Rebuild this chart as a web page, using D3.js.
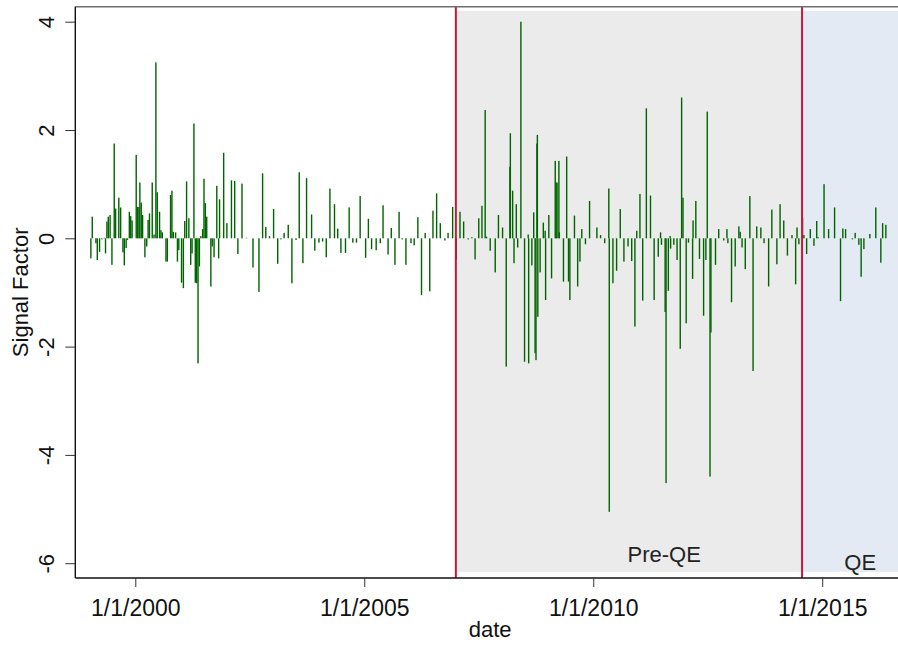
<!DOCTYPE html>
<html>
<head>
<meta charset="utf-8">
<script src="https://cdn.jsdelivr.net/npm/d3@7"></script>
<style>
  body { margin: 0; background: #fff; }
  svg { display: block; font-family: "Liberation Sans", Arial, sans-serif; }
</style>
</head>
<body>
<div id="chart"></div>
<script>
// dates as decimal years
let dates = [
  1999.03,1999.06,1999.14,1999.17,1999.22,1999.27,1999.32,1999.35,1999.38,1999.41,
  1999.45,1999.49,1999.54,1999.57,1999.64,1999.68,1999.73,1999.76,1999.80,1999.83,
  1999.87,1999.90,1999.93,2000.02,2000.05,2000.08,2000.10,2000.13,2000.16,2000.21,
  2000.25,2000.28,2000.31,2000.37,2000.41,2000.45,2000.48,2000.53,2000.56,2000.59,
  2000.67,2000.70,2000.77,2000.80,2000.83,2000.88,2000.92,2000.95,2001.01,2001.05,
  2001.08,2001.12,2001.17,2001.21,2001.24,2001.28,2001.31,2001.34,2001.37,2001.40,
  2001.43,2001.47,2001.50,2001.53,2001.56,2001.65,2001.68,2001.72,2001.78,2001.82,
  2001.84,2001.93,2002.00,2002.10,2002.17,2002.24,2002.33,2002.43,2002.57,2002.70,
  2002.78,2002.85,2002.93,2003.02,2003.11,2003.18,2003.25,2003.34,2003.42,2003.51,
  2003.58,2003.66,2003.74,2003.85,2003.92,2004.01,2004.09,2004.17,2004.25,2004.35,
  2004.42,2004.49,2004.59,2004.67,2004.75,2004.83,2004.91,2005.03,2005.09,2005.16,
  2005.26,2005.35,2005.41,2005.52,2005.59,2005.67,2005.76,2005.83,2005.91,2006.02,
  2006.09,2006.17,2006.25,2006.33,2006.43,2006.50,2006.58,2006.66,2006.76,2006.83,
  2006.93,2007.01,2007.09,2007.17,2007.27,2007.35,2007.42,2007.50,2007.57,2007.64,
  2007.67,2007.75,2007.86,2007.93,2008.02,2008.10,2008.18,2008.19,2008.24,2008.27,
  2008.32,2008.35,2008.42,2008.50,2008.58,2008.59,2008.66,2008.70,2008.73,2008.75,
  2008.77,2008.78,2008.79,2008.84,2008.91,2008.95,2008.96,2009.03,2009.09,2009.17,
  2009.19,2009.21,2009.25,2009.26,2009.35,2009.42,2009.46,2009.49,2009.59,2009.66,
  2009.71,2009.75,2009.83,2009.92,2010.08,2010.16,2010.25,2010.34,2010.35,2010.43,
  2010.51,2010.59,2010.67,2010.76,2010.84,2010.91,2010.95,2011.02,2011.08,2011.16,
  2011.25,2011.33,2011.42,2011.47,2011.49,2011.57,2011.59,2011.64,2011.68,2011.69,
  2011.76,2011.83,2011.90,2011.93,2011.96,2012.03,2012.08,2012.17,2012.18,2012.24,
  2012.32,2012.41,2012.46,2012.49,2012.55,2012.57,2012.67,2012.74,2012.85,2012.92,
  2012.94,2013.02,2013.10,2013.18,2013.21,2013.25,2013.32,2013.42,2013.49,2013.57,
  2013.66,2013.73,2013.83,2013.90,2014.01,2014.08,2014.16,2014.24,2014.34,2014.42,
  2014.45,2014.49,2014.57,2014.60,2014.66,2014.74,2014.82,2014.88,2014.91,2015.04,
  2015.14,2015.27,2015.40,2015.45,2015.51,2015.66,2015.72,2015.80,2015.85,2015.91,
  2016.04,2016.17,2016.28,2016.32,2016.39
];

let signal = [
  -0.37,0.40,-0.09,-0.40,-0.25,-0.02,0.01,-0.28,0.31,0.40,
  0.43,-0.49,1.75,0.55,0.75,0.57,-0.26,-0.50,-0.18,-0.03,
  0.49,0.41,0.33,1.54,0.58,0.58,1.03,0.66,0.43,-0.35,
  -0.15,0.34,0.46,1.03,0.07,3.25,0.85,0.49,0.15,0.11,
  -0.43,-0.43,0.80,0.88,0.12,0.11,-0.43,-0.22,-0.82,-0.92,
  0.32,1.05,0.37,-0.49,-0.28,2.12,-0.82,-0.83,-2.31,-0.52,
  0.04,0.17,1.10,0.65,0.40,-0.89,-0.15,-0.35,0.97,-0.37,
  0.72,1.58,0.28,1.07,1.06,-0.29,1.01,0.01,-0.54,-0.99,
  1.20,0.21,0.04,0.54,-0.47,-0.02,0.10,0.25,-0.83,-0.03,
  1.22,-0.46,1.11,0.44,-0.23,-0.08,-0.06,-0.35,0.92,0.63,
  0.18,-0.27,-0.27,0.57,-0.08,-0.08,0.78,-0.36,0.36,-0.20,
  -0.22,-0.09,0.61,-0.30,0.19,-0.49,0.49,-0.02,-0.49,-0.09,
  -0.13,0.39,-1.05,0.10,-0.98,0.51,0.83,0.28,-0.04,0.10,
  0.58,-0.39,0.49,0.31,-0.02,0.02,-0.39,0.37,0.60,2.37,
  0.03,-0.23,-0.63,0.43,0.20,-2.37,1.32,1.94,0.88,-0.46,
  0.63,-0.17,4.00,-2.28,0.07,-2.31,-0.50,0.48,-2.12,-2.25,
  1.75,1.91,-1.45,-0.63,0.29,0.14,-1.14,0.43,-0.74,1.43,
  1.03,1.03,1.43,0.11,-0.80,1.51,-0.80,-1.14,0.42,-0.89,
  -0.43,0.17,-0.11,0.69,0.20,0.06,-0.09,0.92,-5.05,-0.83,
  -0.60,0.54,-0.43,-0.15,-0.42,-1.63,0.14,0.82,-1.15,2.40,
  0.79,-1.14,-0.34,0.11,-0.12,-1.36,-4.52,-0.97,0.04,-0.19,
  -0.12,-0.40,-2.04,2.60,0.75,-1.57,-0.08,-0.75,0.33,0.69,
  -0.38,-1.43,-0.40,2.34,-4.40,-1.74,-0.49,0.17,-0.04,0.17,
  -0.09,-1.18,-0.52,0.22,0.12,-0.17,-0.57,0.78,-2.45,0.22,
  0.20,-0.09,-0.89,0.53,-0.48,0.63,0.33,-0.32,0.06,-0.85,
  0.20,-0.11,0.38,0.06,-0.29,0.17,-0.14,0.32,0.02,1.00,
  0.17,0.57,-1.16,0.18,0.17,-0.02,0.10,-0.12,-0.71,-0.20,
  0.08,0.57,-0.45,0.28,0.25
];

// regimes: shaded periods
let periodNames = ["Pre-QE", "QE"];
let periodStart = [2007.0, 2014.56];
let periodEnd = [2014.56, 2016.655];
let periodFill = ["#ebebeb", "#e4eaf4"];
let labelAt = [2011.55, 2015.83];

let yTicks = [-6, -4, -2, 0, 2, 4];
let xTicks = [2000, 2005, 2010, 2015];

let W = 898, H = 645;
let pLeft = 75.3, pRight = 898, pTop = 6.7, pBottom = 578;

var svg = d3.select("#chart").append("svg")
  .attr("width", W)
  .attr("height", H);

var x = d3.scaleLinear().domain([1998.69, 2016.655]).range([pLeft, pRight]);
var y = d3.scaleLinear().domain([-6.273, 4.277]).range([pBottom, pTop]);

// shaded regions
svg.selectAll(".shade")
  .data(periodNames)
  .enter()
  .append("rect")
    .attr("x", (d, i) => x(periodStart[i]))
    .attr("width", (d, i) => x(periodEnd[i]) - x(periodStart[i]))
    .attr("y", y(4.2))
    .attr("height", y(-6.16) - y(4.2))
    .style("fill", (d, i) => periodFill[i]);

// region labels
svg.selectAll(".plab")
  .data(periodNames)
  .enter()
  .append("text")
    .attr("x", (d, i) => x(labelAt[i]))
    .attr("y", (d, i) => i == 0 ? 562 : 570)
    .attr("text-anchor", "middle")
    .style("font-size", "22px").style("fill", "#222")
    .text(d => d);

// the bars
let data = dates.map((d, i) => ({date: d, value: signal[i]}));
svg.selectAll(".bar")
  .data(data)
  .enter()
  .append("rect")
    .attr("x", d => x(d.date) - 0.7)
    .attr("width", 1.4)
    .attr("y", d => y(Math.max(d.value, 0)))
    .attr("height", d => Math.abs(y(d.value) - y(0)))
    .style("fill", "#006400");

// red break lines
svg.selectAll(".brk")
  .data(periodStart)
  .enter()
  .append("line")
    .attr("x1", d => x(d)).attr("x2", d => x(d))
    .attr("y1", pTop).attr("y2", pBottom)
    .style("stroke", "#c8173d")
    .style("stroke-width", 2);

// top border
svg.append("line")
  .attr("x1", pLeft).attr("x2", pRight)
  .attr("y1", pTop).attr("y2", pTop)
  .style("stroke", "#6e6e6e")
  .style("stroke-width", 1.6);

// y axis (plain hyphen for negatives, like the original)
var yAxis = svg.append("g")
  .attr("transform", "translate(" + pLeft + ",0)")
  .call(d3.axisLeft(y).tickValues(yTicks).tickSize(10).tickSizeOuter(0).tickPadding(6)
    .tickFormat(d => String(d)));
yAxis.select(".domain").attr("d", "M0," + pTop + "V" + pBottom).style("stroke", "#111").style("stroke-width", 1.4);
yAxis.selectAll(".tick line").style("stroke", "#333");
yAxis.selectAll(".tick text")
  .attr("transform", "rotate(-90)")
  .attr("x", 0).attr("y", -21)
  .attr("dy", "0")
  .attr("text-anchor", "middle")
  .style("font-size", "22px").style("fill", "#111")
  .style("font-family", "Liberation Sans, Arial, sans-serif");

// x axis
var xAxis = svg.append("g")
  .attr("transform", "translate(0," + pBottom + ")")
  .call(d3.axisBottom(x).tickValues(xTicks).tickSize(9).tickSizeOuter(0)
    .tickFormat(d => "1/1/" + d));
xAxis.select(".domain").attr("d", "M" + pLeft + ",0H" + pRight).style("stroke", "#111").style("stroke-width", 1.4);
xAxis.selectAll(".tick line").style("stroke", "#333");
xAxis.selectAll(".tick text")
  .attr("y", 38).attr("dy", "0")
  .style("font-size", "23px").style("fill", "#111")
  .style("font-family", "Liberation Sans, Arial, sans-serif");

// axis titles
svg.append("text")
  .attr("x", x(2007.75)).attr("y", 637)
  .attr("text-anchor", "middle")
  .style("font-size", "22px").style("fill", "#111")
  .text("date");
svg.append("text")
  .attr("transform", "translate(28," + ((pTop + pBottom) / 2) + ") rotate(-90)")
  .attr("text-anchor", "middle")
  .style("font-size", "22px").style("fill", "#111")
  .text("Signal Factor");
</script>
</body>
</html>
